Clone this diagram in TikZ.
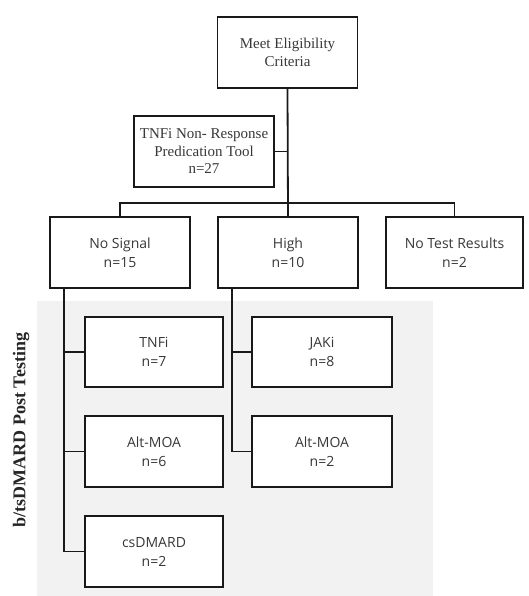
\documentclass[tikz,border=0pt]{standalone}
\usepackage{fontspec}
\setmainfont{Liberation Serif}
\newfontfamily\boxsans{Open Sans}
\begin{document}
\begin{tikzpicture}[x=1pt,y=-1pt,
  box/.style={draw=black!90,line width=1.8pt,fill=white,align=center,inner sep=0pt,
    minimum width=140pt,minimum height=71pt,text=black!78},
  serifbox/.style={box,font=\fontsize{15}{18.5}\selectfont},
  sansbox/.style={box,font=\boxsans\fontsize{14}{19}\selectfont},
  link/.style={draw=black!90,line width=1.8pt}]
\useasboundingbox (0,0) rectangle (529,596);
\fill[black!5] (37,301) rectangle (433,596);
\node[serifbox] (top) at (287.5,52.5) {Meet Eligibility\\Criteria};
\node[serifbox,font=\fontsize{15}{17.5}\selectfont] (tool) at (204,151.5) {TNFi Non- Response\\Predication Tool\\n=27};
\node[sansbox] (nosig) at (120,252.5) {No Signal\\n=15};
\node[sansbox] (high) at (288,252.5) {High\\n=10};
\node[sansbox,minimum width=137pt] (notest) at (454.5,252.5) {No Test Results\\n=2};
\node[sansbox,minimum width=138pt,minimum height=70pt] (tnfi) at (154,352) {TNFi\\n=7};
\node[sansbox,minimum width=138pt] (alt1) at (154,451.5) {Alt-MOA\\n=6};
\node[sansbox,minimum width=138pt] (csd) at (154,551.5) {csDMARD\\n=2};
\node[sansbox,minimum height=70pt] (jaki) at (322,352) {JAKi\\n=8};
\node[sansbox] (alt2) at (322,451.5) {Alt-MOA\\n=2};
\node[rotate=90,font=\bfseries\fontsize{18}{20}\selectfont,text=black!85] (lab) at (21,430) {b/tsDMARD Post Testing};
\coordinate (br) at (287.5,203);
\coordinate (sL) at (64,288);
\coordinate (sR) at (232,288);
\draw[link] (top.south) -- (high.north);
\draw[link] (tool.east) -- (tool.east -| top.south);
\draw[link] (nosig.north) |- (br) -| (notest.north);
\draw[link] (sL) |- (csd.west);
\draw[link] (tnfi.west) -- (tnfi.west -| sL);
\draw[link] (alt1.west) -- (alt1.west -| sL);
\draw[link] (sR) |- (alt2.west);
\draw[link] (jaki.west) -- (jaki.west -| sR);
\end{tikzpicture}
\end{document}
